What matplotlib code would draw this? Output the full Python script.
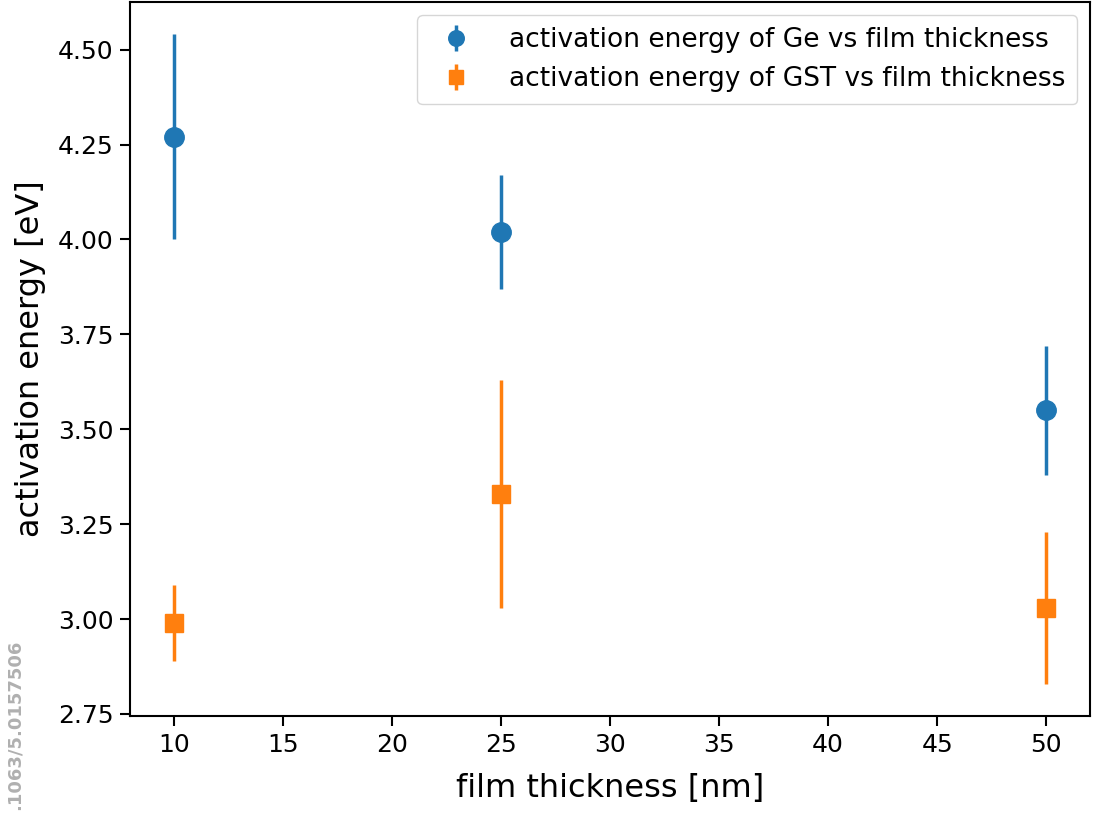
#!/usr/bin/env python3
"""Activation energy vs film thickness (Ge and GST), errorbar plot."""
import matplotlib
matplotlib.use('Agg')
import matplotlib.pyplot as plt

# data
thickness = [10, 25, 50]
ge_energy = [4.27, 4.02, 3.55]
ge_err = [0.27, 0.15, 0.17]
gst_energy = [2.99, 3.33, 3.03]
gst_err = [0.10, 0.30, 0.20]

xticks = [10, 15, 20, 25, 30, 35, 40, 45, 50]
yticks = [2.75, 3.00, 3.25, 3.50, 3.75, 4.00, 4.25, 4.50]

fig = plt.figure(figsize=(10.98, 8.14), dpi=100)
ax = fig.add_axes([0.1184, 0.1204, 0.8743, 0.8771])

ax.errorbar(thickness, ge_energy, yerr=ge_err, fmt='o', color='#1f77b4',
            markersize=14, elinewidth=2.5,
            label='activation energy of Ge vs film thickness')
ax.errorbar(thickness, gst_energy, yerr=gst_err, fmt='s', color='#ff7f0e',
            markersize=13, elinewidth=2.5,
            label='activation energy of GST vs film thickness')

ax.set_xticks(xticks)
ax.set_yticks(yticks)
ax.set_yticklabels([f'{v:.2f}' for v in yticks])
ax.tick_params(labelsize=18, width=1.5, length=7, pad=5)
for s in ax.spines.values():
    s.set_linewidth(1.5)

ax.set_xlabel('film thickness [nm]', fontsize=23, labelpad=12)
ax.set_ylabel('activation energy [eV]', fontsize=23, labelpad=8)
ax.legend(loc='upper right', fontsize=19, borderpad=0.45,
          handletextpad=1.0, markerscale=0.8)

fig.text(0.013, 0.005, '.1063/5.0157506', rotation=90, color='#b0b0b0',
         fontsize=13, fontweight='bold', ha='center', va='bottom')

fig.savefig('out.png', dpi=100)
